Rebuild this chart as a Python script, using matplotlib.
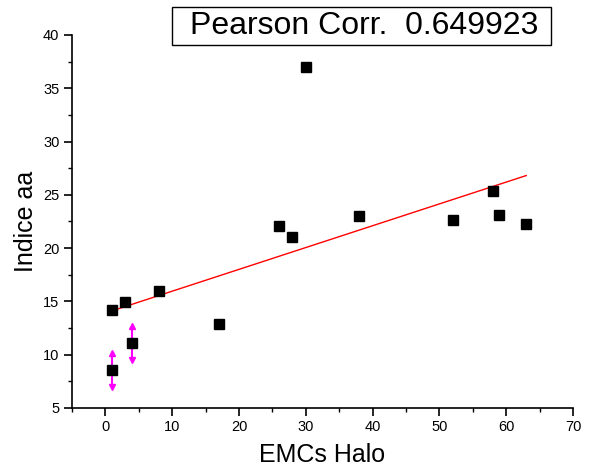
import numpy as np
import matplotlib
matplotlib.use("Agg")
import matplotlib.pyplot as plt
from matplotlib.ticker import MultipleLocator
from matplotlib.patches import Rectangle

plt.rcParams['font.family'] = ['Liberation Sans', 'DejaVu Sans']

# Data
x_pts = [1, 3, 8, 17, 26, 28, 30, 38, 52, 58, 59, 63, 1, 4]
y_pts = [14.2, 14.9, 16.0, 12.9, 22.1, 21.0, 37.0, 23.0, 22.6, 25.4, 23.1, 22.3, 8.6, 11.1]
err_x = [1, 4]
err_y = [8.6, 11.1]
err_val = [1.6, 1.6]
pearson_text = "Pearson Corr.  0.649923"
x_label = "EMCs Halo"
y_label = "Indice aa"

fig = plt.figure(figsize=(5.89, 4.76), dpi=100)
ax = fig.add_axes([0.1222, 0.1429, 0.8506, 0.7836])

x = np.array(x_pts, dtype=float)
y = np.array(y_pts, dtype=float)

# error bars (magenta, arrow-ended)
ex = np.array(err_x, float); ey = np.array(err_y, float); ev = np.array(err_val, float)
ax.errorbar(ex, ey, yerr=ev, fmt='none', ecolor='#ff00ff', elinewidth=1.5, capsize=0, zorder=2)
ax.plot(ex, ey + ev, linestyle='none', marker='^', color='#ff00ff', markersize=5, zorder=2)
ax.plot(ex, ey - ev, linestyle='none', marker='v', color='#ff00ff', markersize=5, zorder=2)

# points
ax.plot(x, y, linestyle='none', marker='s', color='black', markersize=7.5, zorder=3)

# linear fit
slope, intercept = np.polyfit(x, y, 1)
xf = np.array([x.min(), x.max()])
ax.plot(xf, slope * xf + intercept, color='red', linewidth=1.0, zorder=2.5)

ax.set_xlim(-5, 70)
ax.set_ylim(5, 40)
ax.xaxis.set_major_locator(MultipleLocator(10))
ax.xaxis.set_minor_locator(MultipleLocator(5))
ax.yaxis.set_major_locator(MultipleLocator(5))
ax.yaxis.set_minor_locator(MultipleLocator(2.5))

for s in ['top', 'right']:
    ax.spines[s].set_visible(False)
for s in ['left', 'bottom']:
    ax.spines[s].set_linewidth(1.2)

ax.tick_params(which='major', direction='out', length=5.5, width=1.2, labelsize=10.5, pad=3.5)
ax.tick_params(which='minor', direction='out', length=3, width=1.0)

ax.set_xlabel(x_label, fontsize=18, labelpad=6)
ax.set_ylabel(y_label, fontsize=18, labelpad=4)

# Pearson box
fig.patches.append(Rectangle((0.292, 0.9055), 0.6435, 0.0798, transform=fig.transFigure,
                             facecolor='white', edgecolor='black', linewidth=1.0))
fig.text(0.618, 0.945, pearson_text, fontsize=23, ha='center', va='center')

fig.savefig('out.png', dpi=100)
